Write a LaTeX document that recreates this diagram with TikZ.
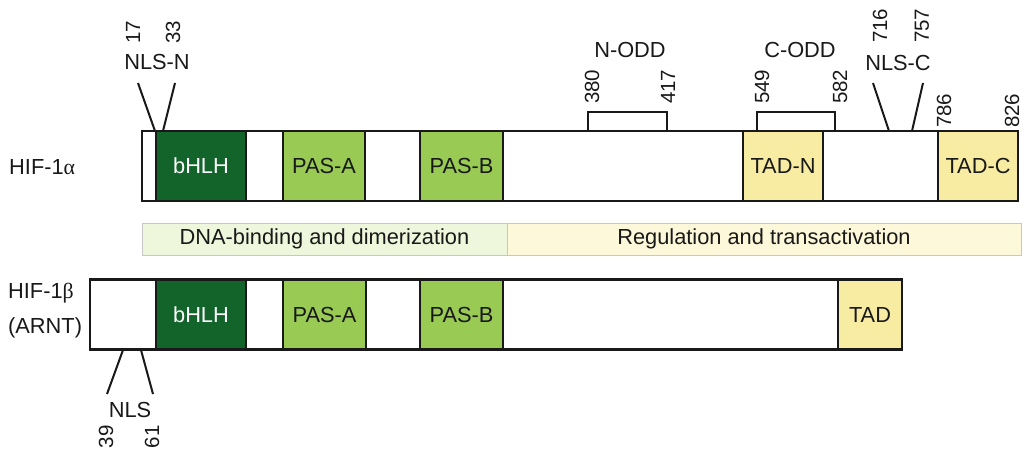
\documentclass[tikz,border=0pt]{standalone}
\usepackage{fontspec}
\setmainfont{Liberation Sans}
\newfontfamily\grk{Liberation Serif}
\definecolor{dkgreen}{RGB}{18,100,42}
\definecolor{ltgreen}{RGB}{152,202,84}
\definecolor{tadyel}{RGB}{248,236,162}
\definecolor{bandgreen}{RGB}{238,246,220}
\definecolor{bandyel}{RGB}{253,248,218}
\definecolor{ink}{RGB}{25,25,25}
\newcommand{\labf}{\fontsize{21.8}{25}\selectfont}
\newcommand{\numf}{\fontsize{20.5}{24}\selectfont}
\tikzset{
  barbox/.style={draw=ink, fill=white, line width=2.6pt, inner sep=0pt, minimum height=70pt},
  dom/.style={draw=ink, line width=2.6pt, inner sep=0pt, minimum height=70pt, font=\labf, text=ink},
  bhlh/.style={dom, fill=dkgreen, text=white},
  pas/.style={dom, fill=ltgreen},
  tad/.style={dom, fill=tadyel},
  band/.style={draw=black!22, line width=0.8pt, inner sep=0pt, minimum height=32pt, font=\labf, text=ink},
  num/.style={rotate=90, inner sep=0pt, font=\numf, text=ink},
  lbl/.style={inner sep=0pt, font=\labf, text=ink},
  nls/.style={draw=ink, line width=2pt},
  odd/.style={draw=ink, line width=1.6pt}
}
\begin{document}
\begin{tikzpicture}[x=1pt,y=-1pt]
\useasboundingbox (0,0) rectangle (1027,450);
% ---------- HIF-1alpha ----------
\node[lbl, anchor=west] (alab) at (9,167) {HIF-1{\grk α}};
\node[barbox, minimum width=876pt] (abar) at (580,166) {};
\node[bhlh, minimum width=90pt] (abhlh) at (201,166) {bHLH};
\node[pas, minimum width=82pt] (apasa) at (324,166) {PAS-A};
\node[pas, minimum width=83pt] (apasb) at (461.5,166) {PAS-B};
\node[tad, minimum width=80pt] (atadn) at (783,166) {TAD-N};
\node[tad, minimum width=80pt] (atadc) at (978,166) {TAD-C};
% NLS-N
\coordinate (n1t) at (138,83); \coordinate (n1b) at (155,131);
\coordinate (n2t) at (175,83); \coordinate (n2b) at (163,131);
\draw[nls] (n1t) -- (n1b);
\draw[nls] (n2t) -- (n2b);
\node[lbl] (nlsn) at (157,62) {NLS-N};
\node[num, anchor=west] (n17) at (133,44) {17};
\node[num, anchor=west] (n33) at (173,44) {33};
% N-ODD / C-ODD
\coordinate (o1a) at (588,131); \coordinate (o1b) at (588,112);
\coordinate (o1c) at (667,112); \coordinate (o1d) at (667,131);
\draw[odd] (o1a) -- (o1b) -- (o1c) -- (o1d);
\coordinate (o2a) at (757,131); \coordinate (o2b) at (757,112);
\coordinate (o2c) at (835,112); \coordinate (o2d) at (835,131);
\draw[odd] (o2a) -- (o2b) -- (o2c) -- (o2d);
\node[lbl] (nodd) at (630,50) {N-ODD};
\node[lbl] (codd) at (800,50) {C-ODD};
\node[num, anchor=west] (n380) at (592,104) {380};
\node[num, anchor=west] (n417) at (668,104) {417};
\node[num, anchor=west] (n549) at (762,104) {549};
\node[num, anchor=west] (n582) at (840,104) {582};
% NLS-C
\coordinate (c1t) at (873,83); \coordinate (c1b) at (889,131);
\coordinate (c2t) at (923,83); \coordinate (c2b) at (912,131);
\draw[nls] (c1t) -- (c1b);
\draw[nls] (c2t) -- (c2b);
\node[lbl] (nlsc) at (898,63) {NLS-C};
\node[num, anchor=west] (n716) at (880,43) {716};
\node[num, anchor=west] (n757) at (922,43) {757};
\node[num, anchor=west] (n786) at (944,128) {786};
\node[num, anchor=west] (n826) at (1012,128) {826};
% ---------- bands ----------
\node[band, fill=bandgreen, minimum width=365pt] (dna) at (324.5,239) {DNA-binding and dimerization};
\node[band, fill=bandyel, minimum width=514pt] (reg) at (764,239) {Regulation and transactivation};
% ---------- HIF-1beta ----------
\node[lbl, anchor=west] (blab1) at (8,293) {HIF-1{\grk β}};
\node[lbl, anchor=west] (blab2) at (8,328) {(ARNT)};
\node[barbox, minimum width=812pt] (bbar) at (496,314.5) {};
\node[bhlh, minimum width=90pt] (bbhlh) at (201,314.5) {bHLH};
\node[pas, minimum width=83pt] (bpasa) at (324.5,314.5) {PAS-A};
\node[pas, minimum width=83pt] (bpasb) at (461.5,314.5) {PAS-B};
\node[tad, minimum width=64pt] (btad) at (870,314.5) {TAD};
% NLS
\coordinate (b1t) at (123,350); \coordinate (b1b) at (107,394);
\coordinate (b2t) at (141,350); \coordinate (b2b) at (153,394);
\draw[nls] (b1t) -- (b1b);
\draw[nls] (b2t) -- (b2b);
\node[lbl] (nlsb) at (130,410) {NLS};
\node[num, anchor=east] (n39) at (106,425) {39};
\node[num, anchor=east] (n61) at (152,425) {61};
\end{tikzpicture}
\end{document}
